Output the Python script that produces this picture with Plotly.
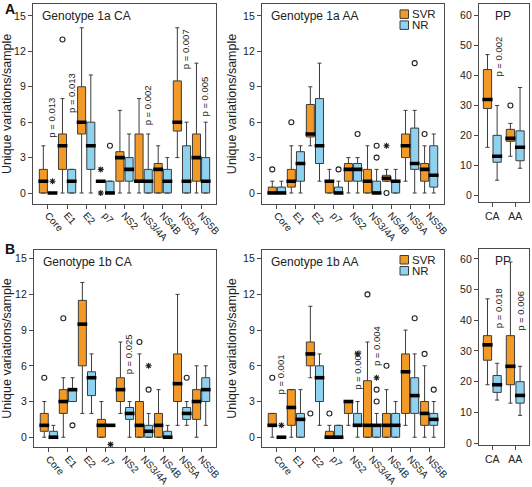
import plotly.graph_objects as go

W, H = 532, 487

# ---------------- data ----------------
genes = ["Core", "E1", "E2", "p7", "NS2", "NS3/4A", "NS4B", "NS5A", "NS5B"]
pp_groups = ["CA", "AA"]
gene_ticks = [0, 3, 6, 9, 12, 15]
pp_ticks = [0, 10, 20, 30, 40, 50, 60]

# Genotype 1a CA
g1a_ca_svr_lo = [0, 0, 0, 1, 0, 0, 0, 3, 0]
g1a_ca_svr_q1 = [0, 2, 5, 1, 1, 1, 0, 5.25, 1]
g1a_ca_svr_med = [1, 4, 6, 1, 3, 1, 2, 6, 3]
g1a_ca_svr_q3 = [2, 5, 9, 1, 3.5, 5, 2.5, 9.5, 5]
g1a_ca_svr_hi = [4, 8, 14, 1, 7, 8, 4, 14, 11]
g1a_ca_svr_out = [("E1", 13)]
g1a_ca_svr_ext = [("p7", 2), ("p7", 0)]
g1a_ca_nr_lo = [0, 0, 0, 0, 0, 0, 0, 0, 0]
g1a_ca_nr_q1 = [0, 0, 2, 0, 1, 0, 0, 0, 0]
g1a_ca_nr_med = [0, 1, 4, 0, 2, 1, 1, 1, 1]
g1a_ca_nr_q3 = [0, 2, 6, 1, 3, 2, 2, 4, 3]
g1a_ca_nr_hi = [0, 2, 10, 1, 5, 5, 3, 6, 6]
g1a_ca_nr_out = [("p7", 4)]
g1a_ca_nr_ext = [("Core", 1)]
g1a_ca_pvals = [("Core", "0.013"), ("E1", "0.013"), ("NS3/4A", "0.002"),
                ("NS5A", "0.007"), ("NS5B", "0.005")]

# Genotype 1a AA
g1a_aa_svr_lo = [0, 0, 4, 0, 0, 0, 1, 1, 0]
g1a_aa_svr_q1 = [0, 0.5, 4.75, 0, 1, 0, 1, 3, 1]
g1a_aa_svr_med = [0, 1, 5, 1, 2, 1, 1.25, 4, 2]
g1a_aa_svr_q3 = [0.5, 2, 7.5, 1, 2.5, 2, 1.5, 5, 2.5]
g1a_aa_svr_hi = [1, 4, 9, 2, 3, 4, 2, 7, 4]
g1a_aa_svr_out = [("Core", 2), ("E1", 6), ("NS4B", 0), ("NS5B", 5)]
g1a_aa_svr_ext = [("NS4B", 4)]
g1a_aa_nr_lo = [0, 0, 1, 0, 0, 0, 0, 0, 0]
g1a_aa_nr_q1 = [0, 1, 2.5, 0, 1, 0, 0, 2, 0.5]
g1a_aa_nr_med = [0, 2.5, 4, 0, 2, 0, 1, 2.5, 1.5]
g1a_aa_nr_q3 = [0.5, 3.5, 8, 0.5, 2.5, 1, 1, 5.5, 4]
g1a_aa_nr_hi = [1, 4, 11, 1, 3, 2, 2, 7, 5]
g1a_aa_nr_out = [("p7", 2), ("NS2", 5), ("NS3/4A", 3), ("NS3/4A", 4), ("NS5A", 11)]
g1a_aa_nr_ext = []
g1a_aa_pvals = []

# Genotype 1a PP
g1a_pp_svr_lo = [16, 13]
g1a_pp_svr_q1 = [29, 18]
g1a_pp_svr_med = [32, 19]
g1a_pp_svr_q3 = [42, 22]
g1a_pp_svr_hi = [47, 24]
g1a_pp_svr_out = [("AA", 30)]
g1a_pp_svr_ext = []
g1a_pp_nr_lo = [5, 9]
g1a_pp_nr_q1 = [11, 11.5]
g1a_pp_nr_med = [13, 16]
g1a_pp_nr_q3 = [20, 21.5]
g1a_pp_nr_hi = [30, 36]
g1a_pp_nr_out = []
g1a_pp_nr_ext = []
g1a_pp_pvals = [("CA", "0.002")]

# Genotype 1b CA
g1b_ca_svr_lo = [0, 0, 2, 0, 2, 0, 0, 1, 0]
g1b_ca_svr_q1 = [0.5, 2, 6, 0, 3, 0, 0, 3, 1.5]
g1b_ca_svr_med = [1, 3, 9.5, 1, 4, 1, 1, 4.5, 3]
g1b_ca_svr_q3 = [2, 4, 11.5, 1.5, 5, 3, 2, 7, 4]
g1b_ca_svr_hi = [3, 5, 13, 3, 8, 7, 4, 12, 6]
g1b_ca_svr_out = [("Core", 5), ("E1", 10), ("NS3/4A", 8)]
g1b_ca_svr_ext = []
g1b_ca_nr_lo = [0, 3, 2, 1, 0, 0, 0, 1, 1]
g1b_ca_nr_q1 = [0, 3, 3.5, 1, 1.5, 0, 0, 1.5, 3]
g1b_ca_nr_med = [0, 4, 5, 1, 2, 0.5, 0, 2, 4]
g1b_ca_nr_q3 = [0.5, 4, 5.5, 1, 2.5, 1, 0.5, 2.5, 5]
g1b_ca_nr_hi = [1, 5, 7, 1, 3, 2, 1, 3, 6]
g1b_ca_nr_out = [("E1", 1), ("NS3/4A", 4), ("NS5A", 5)]
g1b_ca_nr_ext = [("p7", -0.6), ("NS3/4A", 6)]
g1b_ca_pvals = [("NS2", "0.025")]

# Genotype 1b AA
g1b_aa_svr_lo = [0, 0, 5, 0, 1, 0, 0, 1, 0]
g1b_aa_svr_q1 = [1, 1, 6, 0, 2, 0, 0, 2, 1]
g1b_aa_svr_med = [1, 2.5, 7, 0, 3, 1, 1, 5.5, 2]
g1b_aa_svr_q3 = [2, 4, 8, 0.5, 3, 4.75, 2, 7, 3]
g1b_aa_svr_hi = [2, 4, 11, 1, 3, 8, 4, 9, 6]
g1b_aa_svr_out = [("Core", 5), ("E2", 2), ("p7", 2), ("NS3/4A", 12), ("NS4B", 6), ("NS5B", 7)]
g1b_aa_svr_ext = []
g1b_aa_nr_lo = [0, 0, 1, 0, 0, 0, 0, 0, 0]
g1b_aa_nr_q1 = [0, 0, 3, 0, 1, 0, 0, 2, 1]
g1b_aa_nr_med = [0, 1.5, 5, 0, 1, 1, 1, 3.5, 1.5]
g1b_aa_nr_q3 = [0, 2, 6, 1, 2, 1, 2, 5, 2]
g1b_aa_nr_hi = [0, 4, 7, 1, 3, 2, 3, 7, 3]
g1b_aa_nr_out = [("NS3/4A", 3), ("NS3/4A", 4), ("NS5A", 10), ("NS5B", 4)]
g1b_aa_nr_ext = [("Core", 1), ("NS2", 7), ("NS3/4A", 5)]
g1b_aa_pvals = [("Core", "0.001"), ("NS2", "0.006"), ("NS3/4A", "0.004")]

# Genotype 1b PP
g1b_pp_svr_lo = [19, 13]
g1b_pp_svr_q1 = [27, 19]
g1b_pp_svr_med = [32, 25]
g1b_pp_svr_q3 = [35, 35]
g1b_pp_svr_hi = [47, 59]
g1b_pp_svr_out = []
g1b_pp_svr_ext = []
g1b_pp_nr_lo = [14, 9]
g1b_pp_nr_q1 = [16.5, 13]
g1b_pp_nr_med = [19, 15.5]
g1b_pp_nr_q3 = [22, 20]
g1b_pp_nr_hi = [26, 25]
g1b_pp_nr_out = []
g1b_pp_nr_ext = []
g1b_pp_pvals = [("CA", "0.018"), ("AA", "0.006")]

# ---------------- styling / layout ----------------
FONT = "Liberation Sans, Arial, sans-serif"
ORANGE = "#F39A26"
BLUE = "#8FD2F0"
EDGE = "#3c3c3c"
FRAME = "#4a4a4a"

def fx(p):
    return p / W

def fy(p):
    return 1 - p / H

panels = [
    dict(n="", title="Genotype 1a CA", cats=genes, ticks=gene_ticks,
         xd=(33, 216), yd=(4.4, 203.5), xr=[-0.78, 8.78], yr=[-0.89, 15.98],
         svr=(g1a_ca_svr_lo, g1a_ca_svr_q1, g1a_ca_svr_med, g1a_ca_svr_q3, g1a_ca_svr_hi),
         nr=(g1a_ca_nr_lo, g1a_ca_nr_q1, g1a_ca_nr_med, g1a_ca_nr_q3, g1a_ca_nr_hi),
         out=(g1a_ca_svr_out, g1a_ca_nr_out), ext=(g1a_ca_svr_ext, g1a_ca_nr_ext),
         pv=g1a_ca_pvals, pvy=[4.5, 6.6, 5.6, 10.3, 6.3], ytitle=True, legend=False),
    dict(n="2", title="Genotype 1a AA", cats=genes, ticks=gene_ticks,
         xd=(262, 444), yd=(4.4, 203.5), xr=[-0.78, 8.78], yr=[-0.89, 15.98],
         svr=(g1a_aa_svr_lo, g1a_aa_svr_q1, g1a_aa_svr_med, g1a_aa_svr_q3, g1a_aa_svr_hi),
         nr=(g1a_aa_nr_lo, g1a_aa_nr_q1, g1a_aa_nr_med, g1a_aa_nr_q3, g1a_aa_nr_hi),
         out=(g1a_aa_svr_out, g1a_aa_nr_out), ext=(g1a_aa_svr_ext, g1a_aa_nr_ext),
         pv=g1a_aa_pvals, pvy=[], ytitle=True, legend=True),
    dict(n="3", title="PP", cats=pp_groups, ticks=pp_ticks,
         xd=(479, 529), yd=(4.4, 202), xr=[-0.58, 1.6], yr=[-2.3, 63.8],
         svr=(g1a_pp_svr_lo, g1a_pp_svr_q1, g1a_pp_svr_med, g1a_pp_svr_q3, g1a_pp_svr_hi),
         nr=(g1a_pp_nr_lo, g1a_pp_nr_q1, g1a_pp_nr_med, g1a_pp_nr_q3, g1a_pp_nr_hi),
         out=(g1a_pp_svr_out, g1a_pp_nr_out), ext=(g1a_pp_svr_ext, g1a_pp_nr_ext),
         pv=g1a_pp_pvals, pvy=[39], ytitle=False, legend=False),
    dict(n="4", title="Genotype 1b CA", cats=genes, ticks=gene_ticks,
         xd=(34, 216), yd=(250, 447), xr=[-0.78, 8.78], yr=[-0.82, 15.73],
         svr=(g1b_ca_svr_lo, g1b_ca_svr_q1, g1b_ca_svr_med, g1b_ca_svr_q3, g1b_ca_svr_hi),
         nr=(g1b_ca_nr_lo, g1b_ca_nr_q1, g1b_ca_nr_med, g1b_ca_nr_q3, g1b_ca_nr_hi),
         out=(g1b_ca_svr_out, g1b_ca_nr_out), ext=(g1b_ca_svr_ext, g1b_ca_nr_ext),
         pv=g1b_ca_pvals, pvy=[5.1], ytitle=True, legend=False),
    dict(n="5", title="Genotype 1b AA", cats=genes, ticks=gene_ticks,
         xd=(262, 444), yd=(250, 447), xr=[-0.78, 8.78], yr=[-0.82, 15.73],
         svr=(g1b_aa_svr_lo, g1b_aa_svr_q1, g1b_aa_svr_med, g1b_aa_svr_q3, g1b_aa_svr_hi),
         nr=(g1b_aa_nr_lo, g1b_aa_nr_q1, g1b_aa_nr_med, g1b_aa_nr_q3, g1b_aa_nr_hi),
         out=(g1b_aa_svr_out, g1b_aa_nr_out), ext=(g1b_aa_svr_ext, g1b_aa_nr_ext),
         pv=g1b_aa_pvals, pvy=[3.4, 3.8, 5.8], ytitle=True, legend=True),
    dict(n="6", title="PP", cats=pp_groups, ticks=pp_ticks,
         xd=(479, 529), yd=(249, 445), xr=[-0.58, 1.6], yr=[-0.65, 63.25],
         svr=(g1b_pp_svr_lo, g1b_pp_svr_q1, g1b_pp_svr_med, g1b_pp_svr_q3, g1b_pp_svr_hi),
         nr=(g1b_pp_nr_lo, g1b_pp_nr_q1, g1b_pp_nr_med, g1b_pp_nr_q3, g1b_pp_nr_hi),
         out=(g1b_pp_svr_out, g1b_pp_nr_out), ext=(g1b_pp_svr_ext, g1b_pp_nr_ext),
         pv=g1b_pp_pvals, pvy=[36.8, 35.9], ytitle=False, legend=False),
]

fig = go.Figure()
annotations = []
shapes = []
layout_axes = {}

for P in panels:
    n = P["n"]
    xa, ya = "x" + n, "y" + n
    ncat = len(P["cats"])
    is_pp = ncat == 2
    off = 0.21 if is_pp else 0.24
    bw = 0.36 if is_pp else 0.42
    px_per_unit = (P["xd"][1] - P["xd"][0]) / (P["xr"][1] - P["xr"][0])
    bw_px = bw * px_per_unit

    idx = {c: i for i, c in enumerate(P["cats"])}

    for s, (stats, col, sign) in enumerate([(P["svr"], ORANGE, -1), (P["nr"], BLUE, 1)]):
        lo, q1, med, q3, hi = stats
        xs = [i + sign * off for i in range(ncat)]
        fig.add_trace(go.Box(
            x=xs, q1=q1, median=med, q3=q3, lowerfence=lo, upperfence=hi,
            width=bw, fillcolor=col, line=dict(color=EDGE, width=1),
            whiskerwidth=0.5, boxpoints=False, xaxis=xa, yaxis=ya,
            showlegend=False, name="SVR" if s == 0 else "NR"))
        fig.add_trace(go.Scatter(
            x=xs, y=med, mode="markers", xaxis=xa, yaxis=ya, showlegend=False,
            hoverinfo="skip",
            marker=dict(symbol="line-ew", size=bw_px - 1, color="black",
                        line=dict(color="black", width=3.6))))
        outs = P["out"][s]
        if outs:
            fig.add_trace(go.Scatter(
                x=[idx[c] + sign * off for c, v in outs], y=[v for c, v in outs],
                mode="markers", xaxis=xa, yaxis=ya, showlegend=False,
                marker=dict(symbol="circle-open", size=5, color="#222",
                            line=dict(color="#222", width=1.1))))
        exts = P["ext"][s]
        if exts:
            fig.add_trace(go.Scatter(
                x=[idx[c] + sign * off for c, v in exts], y=[v for c, v in exts],
                mode="markers", xaxis=xa, yaxis=ya, showlegend=False,
                marker=dict(symbol="asterisk-open", size=5, color="#222",
                            line=dict(color="#222", width=1.1))))

    # p-value labels
    for (c, ptxt), yv in zip(P["pv"], P["pvy"]):
        annotations.append(dict(
            x=idx[c] + (0.2 if not is_pp else 0.25), y=yv, xref=xa, yref=ya,
            text="p = " + ptxt, textangle=-90, showarrow=False,
            xanchor="center", yanchor="bottom",
            font=dict(family=FONT, size=9.5, color="#222")))

    # panel title
    annotations.append(dict(
        x=fx(P["xd"][0] + (14 if is_pp else 7)), y=fy(P["yd"][0] + 3),
        xref="paper", yref="paper", text=P["title"], showarrow=False,
        xanchor="left", yanchor="top", font=dict(family=FONT, size=12, color="#222")))

    xkey = "xaxis" + n
    ykey = "yaxis" + n
    layout_axes[xkey] = dict(
        domain=[fx(P["xd"][0]), fx(P["xd"][1])], range=P["xr"], anchor=ya,
        automargin=False,
        tickmode="array", tickvals=list(range(ncat)), ticktext=P["cats"],
        tickangle=0 if is_pp else 48, ticks="outside", ticklen=4, tickcolor=FRAME,
        ticklabelstandoff=0 if is_pp else -3,
        showline=True, mirror=True, linecolor=FRAME, linewidth=1.2,
        showgrid=False, zeroline=False,
        tickfont=dict(family=FONT, size=10 if not is_pp else 10.5, color="#222"))
    layout_axes[ykey] = dict(
        domain=[fy(P["yd"][1]), fy(P["yd"][0])], range=P["yr"], anchor=xa,
        automargin=False,
        tickmode="array", tickvals=P["ticks"], ticks="outside", ticklen=4,
        tickcolor=FRAME, showline=True, mirror=True, linecolor=FRAME, linewidth=1.2,
        showgrid=False, zeroline=False,
        tickfont=dict(family=FONT, size=10.5, color="#222"))
    if P["ytitle"]:
        layout_axes[ykey]["title"] = dict(
            text="Unique variations/sample", standoff=3,
            font=dict(family=FONT, size=12.5, color="#222"))

    # legend swatches
    if P["legend"]:
        top = P["yd"][0]
        for k, (lab, col) in enumerate([("SVR", ORANGE), ("NR", BLUE)]):
            y0 = top + 5.5 + k * 11
            shapes.append(dict(type="rect", xref="paper", yref="paper",
                               x0=fx(400), x1=fx(408.5), y0=fy(y0 + 8.5), y1=fy(y0),
                               fillcolor=col, line=dict(color=EDGE, width=1)))
            annotations.append(dict(
                x=fx(410), y=fy(y0 + 4.25), xref="paper", yref="paper", text=lab,
                showarrow=False, xanchor="left", yanchor="middle",
                font=dict(family=FONT, size=11.5, color="#222")))

# panel letters
for letter, ypx in [("A", 9), ("B", 249)]:
    annotations.append(dict(
        x=fx(3), y=fy(ypx), xref="paper", yref="paper", text="<b>" + letter + "</b>",
        showarrow=False, xanchor="left", yanchor="middle",
        font=dict(family=FONT, size=14, color="#111")))

fig.update_layout(
    width=W, height=H, autosize=False,
    margin=dict(l=0, r=0, t=0, b=0, autoexpand=False),
    paper_bgcolor="white", plot_bgcolor="white",
    showlegend=False, annotations=annotations, shapes=shapes,
    font=dict(family=FONT, color="#222"),
    **layout_axes)

fig.write_html("out.html",
               config={"displayModeBar": False},
               post_script="document.body.style.margin='0';document.body.style.padding='0';"
                           "document.body.style.overflow='hidden';")
